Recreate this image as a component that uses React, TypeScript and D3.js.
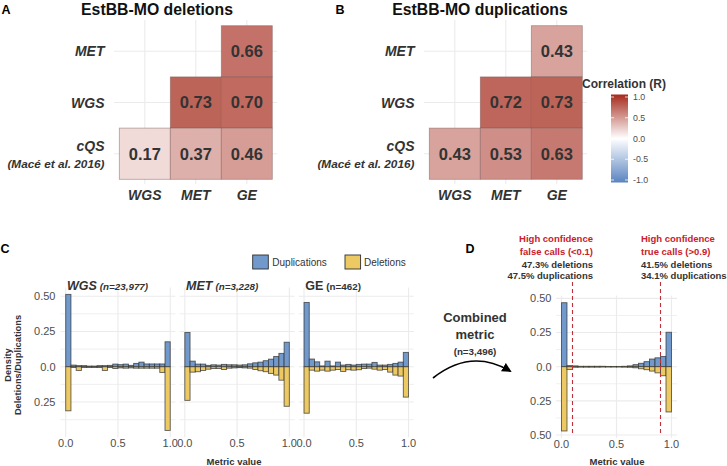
import React from "react";
import * as d3 from "d3";

// ---------- DATA ----------
const corrCols = ["WGS", "MET", "GE"];
const corrRows = ["MET", "WGS", "cQS"];
const delCorr: (number | null)[][] = [
  [null, null, 0.66],
  [null, 0.73, 0.7],
  [0.17, 0.37, 0.46],
];
const dupCorr: (number | null)[][] = [
  [null, null, 0.43],
  [null, 0.72, 0.73],
  [0.43, 0.53, 0.63],
];
const legendTicks = [1.0, 0.5, 0.0, -0.5, -1.0];

const binStarts = [0, 0.05, 0.1, 0.15, 0.2, 0.25, 0.3, 0.35, 0.4, 0.45, 0.5, 0.55, 0.6, 0.65, 0.7, 0.75, 0.8, 0.85, 0.9, 0.95];
const binWidth = 0.05;

const wgsDup = [0.513, 0.012, 0.008, 0.008, 0.005, 0.005, 0.008, 0.008, 0.01, 0.019, 0.015, 0.019, 0.01, 0.024, 0.033, 0.02, 0.02, 0.02, 0.02, 0.177];
const wgsDel = [0.312, 0.005, 0.026, 0.005, 0.005, 0.005, 0.005, 0.026, 0.005, 0.012, 0.008, 0.01, 0.008, 0.01, 0.01, 0.01, 0.01, 0.01, 0.04, 0.451];
const metDup = [0.243, 0.04, 0.019, 0.019, 0.01, 0.014, 0.012, 0.017, 0.014, 0.014, 0.012, 0.014, 0.021, 0.028, 0.033, 0.043, 0.054, 0.073, 0.095, 0.174];
const metDel = [0.238, 0.038, 0.035, 0.026, 0.017, 0.012, 0.012, 0.019, 0.01, 0.008, 0.006, 0.008, 0.01, 0.019, 0.028, 0.035, 0.047, 0.059, 0.095, 0.28];
const geDup = [0.456, 0.055, 0.035, 0.006, 0.04, 0.006, 0.033, 0.012, 0.017, 0.012, 0.017, 0.019, 0.019, 0.031, 0.012, 0.012, 0.017, 0.024, 0.033, 0.102];
const geDel = [0.329, 0.024, 0.031, 0.024, 0.031, 0.024, 0.019, 0.033, 0.021, 0.024, 0.021, 0.012, 0.01, 0.017, 0.024, 0.019, 0.038, 0.059, 0.066, 0.215];
const combDup = [0.468, 0.008, 0.006, 0.003, 0.003, 0.003, 0.003, 0.003, 0.002, 0.002, 0.002, 0.003, 0.006, 0.015, 0.025, 0.037, 0.056, 0.065, 0.075, 0.252];
const combDel = [0.47, 0.02, 0.004, 0.003, 0.003, 0.003, 0.003, 0.002, 0.002, 0.002, 0.002, 0.003, 0.004, 0.008, 0.015, 0.022, 0.032, 0.045, 0.066, 0.331];

const facetNames = ["WGS", "MET", "GE"];
const facetCounts = ["(n=23,977)", "(n=3,228)", "(n=462)"];
const facetDup = [wgsDup, metDup, geDup];
const facetDel = [wgsDel, metDel, geDel];

const yTicksC = [0.5, 0.25, 0, -0.25];
const yMinorC = [0.375, 0.125, -0.125, -0.375];
const yTicksD = [0.5, 0.25, 0, -0.25, -0.5];
const yMinorD = [0.375, 0.125, -0.125, -0.375];
const xTicks = [0, 0.5, 1];
const thresholds = [0.1, 0.9];

const leftNote = ["High confidence", "false calls (<0.1)", "47.3% deletions", "47.5% duplications"];
const rightNote = ["High confidence", "true calls (>0.9)", "41.5% deletions", "34.1% duplications"];

// ---------- STYLE ----------
const FONT = "'Liberation Sans', Arial, Helvetica, sans-serif";
const DUP = "#7199CC";
const DEL = "#EDC964";
const GRID = "#EBEBEB";
const TXT = "#333333";
const AX = "#4D4D4D";
const RED = "#C9202B";

const fillScale = d3
  .scaleLinear<string>()
  .domain([-1, 0, 1])
  .range(["#5A84C0", "#FFFFFF", "#A52A1C"])
  .interpolate(d3.interpolateRgb);

const fmt = d3.format(".2f");
const fmtTick = (v: number) => (v === 0 ? "0.0" : d3.format(".2f")(Math.abs(v)));

function Heatmap({ offset, values, title, letter }: { offset: number; values: (number | null)[][]; title: string; letter: string }) {
  const x = d3.scaleBand().domain(corrCols).range([119.3 + offset, 272.3 + offset]);
  const y = d3.scaleBand().domain(corrRows).range([25.7, 179.3]);
  const bw = x.bandwidth();
  const bh = y.bandwidth();
  return (
    <g>
      <text x={letter === "A" ? 1.5 : 335.5} y={13.5} fontSize={12.5} fontWeight="bold" fill="#000">{letter}</text>
      <text x={157 + offset + (letter === "B" ? 13 : 0)} y={15} fontSize={15.8} fontWeight="bold" textAnchor="middle" fill="#111">{title}</text>
      {corrCols.map((c) => (
        <line key={"v" + c} x1={x(c)! + bw / 2} x2={x(c)! + bw / 2} y1={20} y2={184} stroke={GRID} strokeWidth={1.1} />
      ))}
      {corrRows.map((r) => (
        <line key={"h" + r} x1={114 + offset} x2={277 + offset} y1={y(r)! + bh / 2} y2={y(r)! + bh / 2} stroke={GRID} strokeWidth={1.1} />
      ))}
      {corrRows.map((r, i) =>
        corrCols.map((c, j) => {
          const v = values[i][j];
          if (v === null) return null;
          return (
            <g key={r + c}>
              <rect x={x(c)} y={y(r)} width={bw} height={bh} fill={fillScale(v)} stroke="#7a5a55" strokeOpacity={0.55} strokeWidth={0.8} />
              <text x={x(c)! + bw / 2} y={y(r)! + bh / 2} dy="0.36em" textAnchor="middle" fontSize={16.5} fontWeight="bold" fill={TXT}>{fmt(v)}</text>
            </g>
          );
        })
      )}
      {corrRows.map((r) =>
        r === "cQS" ? (
          <g key={"yl" + r}>
            <text x={104.5 + offset} y={145.7} dy="0.36em" textAnchor="end" fontSize={14} fontWeight="bold" fontStyle="italic" fill={TXT}>cQS</text>
            <text x={104.5 + offset} y={163.3} dy="0.36em" textAnchor="end" fontSize={11.8} fontWeight="bold" fontStyle="italic" fill={TXT}>(Macé et al. 2016)</text>
          </g>
        ) : (
          <text key={"yl" + r} x={104.5 + offset} y={y(r)! + bh / 2} dy="0.36em" textAnchor="end" fontSize={14} fontWeight="bold" fontStyle="italic" fill={TXT}>{r}</text>
        )
      )}
      {corrCols.map((c) => (
        <text key={"xl" + c} x={x(c)! + bw / 2} y={195} dy="0.36em" textAnchor="middle" fontSize={14} fontWeight="bold" fontStyle="italic" fill={TXT}>{c}</text>
      ))}
    </g>
  );
}

function Bars({ xs, ys, dup, del }: { xs: d3.ScaleLinear<number, number>; ys: d3.ScaleLinear<number, number>; dup: number[]; del: number[] }) {
  return (
    <g>
      {binStarts.map((b, i) => (
        <rect key={"d" + i} x={xs(b)} width={xs(b + binWidth) - xs(b)} y={ys(dup[i])} height={ys(0) - ys(dup[i])} fill={DUP} stroke="#2e2e2e" strokeOpacity={0.75} strokeWidth={0.9} />
      ))}
      {binStarts.map((b, i) => (
        <rect key={"e" + i} x={xs(b)} width={xs(b + binWidth) - xs(b)} y={ys(0)} height={ys(-del[i]) - ys(0)} fill={DEL} stroke="#2e2e2e" strokeOpacity={0.75} strokeWidth={0.9} />
      ))}
    </g>
  );
}

function Grid({ xs, ys, major, minor, x0, x1 }: { xs: d3.ScaleLinear<number, number>; ys: d3.ScaleLinear<number, number>; major: number[]; minor: number[]; x0: number; x1: number }) {
  const [yb, yt] = ys.range();
  return (
    <g>
      {minor.map((t) => (
        <line key={"mi" + t} x1={x0} x2={x1} y1={ys(t)} y2={ys(t)} stroke={GRID} strokeWidth={0.8} />
      ))}
      {major.map((t) => (
        <line key={"ma" + t} x1={x0} x2={x1} y1={ys(t)} y2={ys(t)} stroke={GRID} strokeWidth={1.1} />
      ))}
      {xTicks.map((t) => (
        <line key={"vx" + t} x1={xs(t)} x2={xs(t)} y1={yt} y2={yb} stroke={GRID} strokeWidth={1.1} />
      ))}
    </g>
  );
}

export default function App() {
  const W = 104.5;
  const panelLefts = [60.5, 179.6, 298.8];
  const yC = d3.scaleLinear().domain([-0.499, 0.561]).range([437.2, 287.6]);
  const xD = d3.scaleLinear().domain([-0.05, 1.05]).range([556, 677]);
  const yD = d3.scaleLinear().domain([-0.52, 0.52]).range([437.8, 295.6]);
  const legY = d3.scaleLinear().domain([1, -1]).range([97, 180]);
  const gradStops = d3.range(0, 1.0001, 0.1);

  return (
    <svg width={727} height={466} style={{ position: "absolute", left: 0, top: 0, background: "#fff" }} fontFamily={FONT}>
      <defs>
        <linearGradient id="corrGrad" x1="0" y1="0" x2="0" y2="1">
          {gradStops.map((s) => (
            <stop key={s} offset={s} stopColor={fillScale(1 - 2 * s)} />
          ))}
        </linearGradient>
        <marker id="arrowHead" viewBox="0 0 10 10" refX="8" refY="5" markerWidth="6" markerHeight="6" orient="auto" markerUnits="strokeWidth">
          <path d="M0,0 L10,5 L0,10 z" fill="#000" />
        </marker>
      </defs>

      {/* Panels A and B */}
      <Heatmap offset={0} values={delCorr} title="EstBB-MO deletions" letter="A" />
      <Heatmap offset={310} values={dupCorr} title="EstBB-MO duplications" letter="B" />

      {/* Correlation legend */}
      <text x={582} y={88} fontSize={12} fontWeight="bold" fill={TXT}>Correlation (R)</text>
      <rect x={611} y={legY(1) - 2.5} width={17} height={legY(-1) - legY(1) + 5} fill="url(#corrGrad)" />
      {legendTicks.map((t) => (
        <g key={"lt" + t}>
          <line x1={611} x2={614} y1={legY(t)} y2={legY(t)} stroke="#fff" strokeWidth={0.8} />
          <line x1={625} x2={628} y1={legY(t)} y2={legY(t)} stroke="#fff" strokeWidth={0.8} />
          <text x={633} y={legY(t)} dy="0.36em" fontSize={8.8} fill={AX}>{d3.format(".1f")(t).replace("\u2212", "-")}</text>
        </g>
      ))}

      {/* Panel C */}
      <text x={0.5} y={253} fontSize={12.5} fontWeight="bold" fill="#000">C</text>
      <rect x={252.7} y={255} width={15.6} height={14} fill={DUP} stroke="#2e2e2e" strokeWidth={0.9} />
      <text x={272.3} y={262} dy="0.36em" fontSize={10} fill={TXT}>Duplications</text>
      <rect x={345} y={255} width={15.6} height={14} fill={DEL} stroke="#2e2e2e" strokeWidth={0.9} />
      <text x={364} y={262} dy="0.36em" fontSize={10} fill={TXT}>Deletions</text>

      {facetNames.map((name, f) => {
        const left = panelLefts[f];
        const xs = d3.scaleLinear().domain([-0.05, 1.05]).range([left, left + 1.1 * W]);
        return (
          <g key={name}>
            <Grid xs={xs} ys={yC} major={yTicksC} minor={yMinorC} x0={left} x1={left + 1.1 * W} />
            <Bars xs={xs} ys={yC} dup={facetDup[f]} del={facetDel[f]} />
            <text x={left + 6.5} y={290} fontWeight="bold" fill={TXT} fontStyle={f < 2 ? "italic" : "normal"}>
              <tspan fontSize={12.5}>{name}</tspan>
              <tspan fontSize={9.8} dx={3}>{facetCounts[f]}</tspan>
            </text>
            {xTicks.map((t) => (
              <text key={t} x={xs(t)} y={443} dy="0.36em" textAnchor="middle" fontSize={11} fill={AX}>{d3.format(".1f")(t)}</text>
            ))}
          </g>
        );
      })}
      {yTicksC.map((t) => (
        <text key={"yc" + t} x={55.5} y={yC(t)} dy="0.36em" textAnchor="end" fontSize={11} fill={AX}>{fmtTick(t)}</text>
      ))}
      <text transform="translate(11,365) rotate(-90)" textAnchor="middle" fontSize={9.3} fontWeight="bold" fill={TXT}>Density</text>
      <text transform="translate(20.5,365) rotate(-90)" textAnchor="middle" fontSize={9.3} fontWeight="bold" fill={TXT}>Deletions/Duplications</text>
      <text x={234} y={461.5} dy="0.36em" textAnchor="middle" fontSize={9.5} fontWeight="bold" fill={TXT}>Metric value</text>

      {/* Arrow + combined metric */}
      <text x={475} y={317.7} dy="0.36em" textAnchor="middle" fontSize={13} fontWeight="bold" fill={TXT}>Combined</text>
      <text x={475} y={334} dy="0.36em" textAnchor="middle" fontSize={13} fontWeight="bold" fill={TXT}>metric</text>
      <text x={475} y={351} dy="0.36em" textAnchor="middle" fontSize={9.8} fontWeight="bold" fill={TXT}>(n=3,496)</text>
      <path d="M433,378 Q471,348 510,371" fill="none" stroke="#000" strokeWidth={1.6} markerEnd="url(#arrowHead)" />

      {/* Panel D */}
      <text x={465.5} y={253} fontSize={12.5} fontWeight="bold" fill="#000">D</text>
      <Grid xs={xD} ys={yD} major={yTicksD} minor={yMinorD} x0={556} x1={677} />
      <Bars xs={xD} ys={yD} dup={combDup} del={combDel} />
      {thresholds.map((t) => (
        <line key={"th" + t} x1={xD(t)} x2={xD(t)} y1={282} y2={435} stroke="#C0303A" strokeWidth={1.1} strokeDasharray="4,3" />
      ))}
      {yTicksD.map((t) => (
        <text key={"yd" + t} x={551.5} y={yD(t)} dy="0.36em" textAnchor="end" fontSize={11} fill={AX}>{fmtTick(t)}</text>
      ))}
      {xTicks.map((t) => (
        <text key={"xd" + t} x={xD(t)} y={444} dy="0.36em" textAnchor="middle" fontSize={11} fill={AX}>{d3.format(".1f")(t)}</text>
      ))}
      <text x={617} y={461.5} dy="0.36em" textAnchor="middle" fontSize={9.5} fontWeight="bold" fill={TXT}>Metric value</text>
      {leftNote.map((s, i) => (
        <text key={"ln" + i} x={593} y={[238.5, 251.5, 265, 276][i]} dy="0.36em" textAnchor="end" fontSize={9.5} fontWeight="bold" fill={i < 2 ? RED : TXT}>{s}</text>
      ))}
      {rightNote.map((s, i) => (
        <text key={"rn" + i} x={641} y={[238.5, 251.5, 265, 276][i]} dy="0.36em" textAnchor="start" fontSize={9.5} fontWeight="bold" fill={i < 2 ? RED : TXT}>{s}</text>
      ))}
    </svg>
  );
}
